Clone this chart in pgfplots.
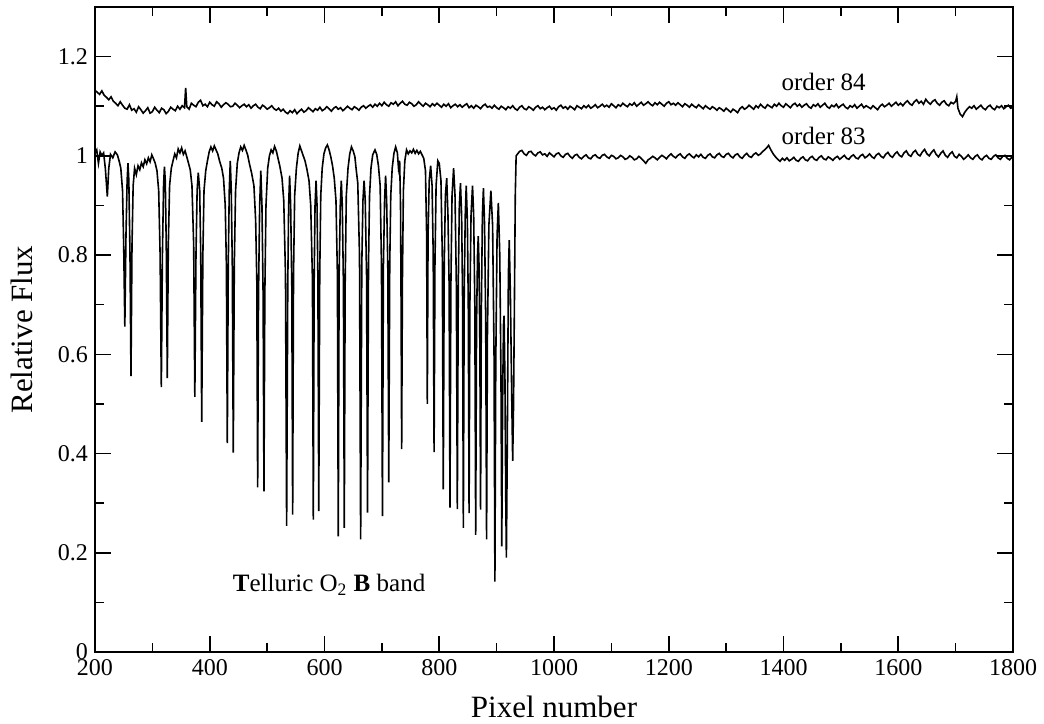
\documentclass[border=0pt]{standalone}
\usepackage{fontspec}
\setmainfont{Liberation Serif}
\usepackage{pgfplots}
\pgfplotsset{compat=1.18}

% order 84 (offset spectrum, flat continuum)
\pgfplotstableread{
x y
200 1.132
204 1.128
208 1.124
212 1.131
216 1.122
220 1.118
224 1.113
228 1.119
232 1.110
236 1.106
240 1.101
244 1.109
248 1.102
252 1.096
256 1.094
260 1.103
264 1.092
268 1.095
272 1.088
276 1.099
280 1.093
284 1.086
288 1.091
292 1.097
296 1.086
300 1.089
304 1.098
308 1.092
312 1.087
316 1.096
320 1.093
324 1.085
328 1.090
332 1.098
336 1.094
340 1.091
344 1.100
348 1.094
352 1.101
356 1.097
358 1.137
360 1.099
364 1.094
368 1.106
372 1.102
376 1.099
380 1.108
384 1.112
388 1.101
392 1.104
396 1.099
400 1.108
404 1.103
408 1.100
412 1.109
416 1.105
420 1.098
424 1.103
428 1.107
432 1.104
436 1.099
440 1.100
444 1.106
448 1.102
452 1.097
456 1.101
460 1.104
464 1.099
468 1.103
472 1.096
476 1.101
480 1.104
484 1.098
488 1.095
492 1.102
496 1.099
500 1.094
504 1.097
508 1.101
512 1.095
516 1.092
520 1.096
524 1.090
528 1.094
532 1.088
536 1.085
540 1.091
544 1.087
548 1.093
552 1.085
556 1.090
560 1.094
564 1.088
568 1.091
572 1.097
576 1.093
580 1.089
584 1.095
588 1.092
592 1.098
596 1.091
600 1.094
604 1.099
608 1.095
612 1.090
616 1.096
620 1.099
624 1.094
628 1.097
632 1.091
636 1.095
640 1.100
644 1.096
648 1.093
652 1.099
656 1.096
660 1.092
664 1.098
668 1.101
672 1.096
676 1.100
680 1.103
684 1.098
688 1.104
692 1.100
696 1.106
700 1.101
704 1.108
708 1.103
712 1.100
716 1.107
720 1.104
724 1.109
728 1.101
732 1.106
736 1.110
740 1.104
744 1.102
748 1.108
752 1.105
756 1.100
760 1.103
764 1.109
768 1.104
772 1.100
776 1.106
780 1.103
784 1.099
788 1.105
792 1.101
796 1.106
800 1.102
804 1.098
808 1.104
812 1.100
816 1.105
820 1.097
824 1.101
828 1.104
832 1.099
836 1.103
840 1.098
844 1.102
848 1.105
852 1.097
856 1.101
860 1.096
864 1.102
868 1.099
872 1.095
876 1.101
880 1.104
884 1.098
888 1.100
892 1.096
896 1.102
900 1.097
904 1.094
908 1.100
912 1.097
916 1.093
920 1.099
924 1.096
928 1.101
932 1.095
936 1.092
940 1.098
944 1.101
948 1.095
952 1.093
956 1.099
960 1.096
964 1.092
968 1.098
972 1.101
976 1.095
980 1.098
984 1.093
988 1.097
992 1.100
996 1.094
1000 1.097
1004 1.092
1008 1.099
1012 1.102
1016 1.096
1020 1.099
1024 1.094
1028 1.100
1032 1.097
1036 1.093
1040 1.101
1044 1.098
1048 1.095
1052 1.101
1056 1.097
1060 1.102
1064 1.096
1068 1.099
1072 1.103
1076 1.097
1080 1.100
1084 1.104
1088 1.099
1092 1.102
1096 1.098
1100 1.105
1104 1.101
1108 1.097
1112 1.103
1116 1.100
1120 1.106
1124 1.102
1128 1.099
1132 1.105
1136 1.102
1140 1.107
1144 1.100
1148 1.104
1152 1.108
1156 1.102
1160 1.105
1164 1.109
1168 1.104
1172 1.101
1176 1.107
1180 1.103
1184 1.108
1188 1.104
1192 1.100
1196 1.106
1200 1.109
1204 1.103
1208 1.106
1212 1.102
1216 1.107
1220 1.103
1224 1.099
1228 1.105
1232 1.102
1236 1.098
1240 1.104
1244 1.100
1248 1.097
1252 1.103
1256 1.099
1260 1.095
1264 1.101
1268 1.097
1272 1.094
1276 1.099
1280 1.096
1284 1.092
1288 1.097
1292 1.094
1296 1.090
1300 1.096
1304 1.092
1308 1.088
1312 1.094
1316 1.091
1320 1.087
1324 1.095
1328 1.099
1332 1.094
1336 1.097
1340 1.102
1344 1.098
1348 1.094
1352 1.101
1356 1.097
1360 1.104
1364 1.099
1368 1.096
1372 1.103
1376 1.100
1380 1.097
1384 1.104
1388 1.100
1392 1.106
1396 1.101
1400 1.098
1404 1.105
1408 1.101
1412 1.097
1416 1.103
1420 1.106
1424 1.100
1428 1.104
1432 1.098
1436 1.102
1440 1.105
1444 1.099
1448 1.096
1452 1.103
1456 1.100
1460 1.105
1464 1.098
1468 1.102
1472 1.106
1476 1.099
1480 1.096
1484 1.102
1488 1.099
1492 1.104
1496 1.097
1500 1.101
1504 1.104
1508 1.098
1512 1.095
1516 1.101
1520 1.098
1524 1.103
1528 1.096
1532 1.100
1536 1.104
1540 1.097
1544 1.101
1548 1.098
1552 1.095
1556 1.101
1560 1.097
1564 1.093
1568 1.100
1572 1.104
1576 1.099
1580 1.102
1584 1.106
1588 1.100
1592 1.104
1596 1.108
1600 1.102
1604 1.106
1608 1.101
1612 1.107
1616 1.111
1620 1.105
1624 1.102
1628 1.109
1632 1.113
1636 1.106
1640 1.110
1644 1.104
1648 1.114
1652 1.108
1656 1.104
1660 1.110
1664 1.113
1668 1.106
1672 1.102
1676 1.108
1680 1.111
1684 1.104
1688 1.101
1692 1.108
1696 1.105
1700 1.110
1702 1.119
1704 1.096
1708 1.084
1712 1.079
1716 1.088
1720 1.094
1724 1.099
1728 1.096
1732 1.101
1736 1.094
1740 1.098
1744 1.102
1748 1.096
1752 1.093
1756 1.099
1760 1.102
1764 1.096
1768 1.093
1772 1.100
1776 1.097
1780 1.101
1784 1.095
1788 1.099
1792 1.102
1796 1.096
1800 1.098
}\ordereightyfour

% order 83 (O2 B band absorption lines)
\pgfplotstableread{
x y
200 1.005
203 1.012
206 0.985
209 1.008
212 1.001
215 1.006
218 0.975
221.5 0.918
224 0.975
227 1.003
231 0.996
235 1.008
239 1.002
242 0.990
245 0.975
248 0.93
250 0.82
252 0.656
254 0.84
256 0.95
257.5 0.985
259 0.95
261 0.80
262.7 0.556
264.5 0.82
266.5 0.94
269 0.975
272 0.962
275 0.980
278 0.972
281 0.986
284 0.978
287 0.992
290 0.984
293 0.996
296 0.988
299 1.002
302 0.994
305 0.985
308 0.97
311 0.93
313.5 0.80
315.6 0.534
317.5 0.80
319.5 0.94
321 0.978
322.5 0.95
324.2 0.82
326 0.552
327.8 0.82
330 0.94
333 0.975
336 0.99
339 1.004
342 0.996
345 1.014
348 1.006
351 1.016
354 1.003
357 1.010
360 0.998
363 0.985
366 0.972
369 0.94
372 0.82
374 0.514
376 0.80
378 0.93
380 0.966
382.5 0.93
384.3 0.80
386 0.464
388 0.80
390 0.93
393 0.97
396 0.99
399 1.008
402 1.018
405 1.010
408 1.020
411 1.012
414 1.004
417 0.99
421 0.975
424 0.955
427 0.90
429 0.78
430.6 0.421
432.3 0.78
434 0.93
435.8 0.99
437.5 0.93
439.3 0.78
441 0.402
442.8 0.78
445 0.93
448 0.985
451 1.006
454 1.018
457 1.011
460 1.021
463 1.012
466 1.002
469 0.985
473 0.965
477 0.94
480 0.87
482 0.75
483.5 0.332
485 0.72
487 0.90
489 0.97
491 0.90
493 0.72
494.5 0.324
496 0.72
498 0.90
501 0.975
504 1.000
507 1.012
510 1.006
513 1.019
516 1.010
519 0.995
522 0.98
526 0.955
529 0.91
532 0.76
534 0.254
536 0.74
537.5 0.90
539.2 0.96
541 0.90
543 0.74
544.5 0.277
546 0.76
548 0.92
551 0.975
554 1.005
557 1.020
560 1.010
563 1.000
566 0.99
569 0.975
573 0.95
576 0.90
579 0.75
580.5 0.267
582 0.75
583.5 0.90
585.3 0.95
587 0.90
588.5 0.75
590 0.284
591.7 0.76
593.5 0.92
596 0.975
599 1.004
602 1.016
605 1.022
608 1.012
611 0.998
614 0.98
617 0.955
620 0.91
622.5 0.76
624 0.233
625.5 0.76
627.5 0.90
629.3 0.95
631 0.90
633 0.74
634.5 0.25
636 0.74
638 0.92
641 0.975
644 1.004
647 1.018
650 1.010
653 0.998
655 0.975
658 0.945
661 0.80
663 0.227
665 0.78
667 0.91
669 0.95
671 0.91
673.3 0.76
675 0.281
676.7 0.78
678.5 0.92
681 0.975
684 1.002
688 1.012
691 1.003
694 0.98
697 0.94
699.3 0.78
701 0.274
702.7 0.78
704.7 0.91
706.5 0.96
708.3 0.91
710.3 0.78
712 0.342
713.7 0.78
715.5 0.92
718 0.975
721 1.005
724 1.018
727 1.006
729 0.975
731 0.99
732.5 0.90
733.5 0.70
734.5 0.409
735.8 0.75
737.5 0.93
740 0.99
743 1.012
746 1.004
749 1.010
752 1.006
755 1.013
758 1.005
761 1.011
764 1.004
767 1.009
770 1.002
773 0.995
776 0.97
778 0.84
779.2 0.50
780.5 0.84
782.5 0.95
785 0.98
787.5 0.94
789.5 0.80
791 0.403
792.5 0.78
794.5 0.94
797.5 0.99
800 0.985
803 0.95
805.3 0.80
807 0.328
808.7 0.78
810.7 0.92
813 0.955
815.2 0.88
817.2 0.74
818.7 0.291
820.3 0.74
822.3 0.92
825 0.975
827.5 0.92
829.8 0.74
831.5 0.288
833.2 0.74
835 0.90
837 0.945
839 0.88
840.6 0.72
842 0.25
843.5 0.72
845.3 0.88
847 0.94
849 0.87
850.6 0.70
852 0.28
853.4 0.70
855.4 0.88
858 0.94
860 0.88
862 0.70
863.5 0.236
865 0.66
866.7 0.80
868 0.838
869.3 0.78
870.8 0.62
872 0.287
873.3 0.68
875.2 0.88
877 0.935
879 0.86
881 0.66
882.5 0.227
884 0.64
886.5 0.86
890 0.93
893 0.86
895.5 0.60
897 0.142
898.5 0.58
900.8 0.84
903 0.905
905.5 0.80
907.6 0.55
909 0.213
910.4 0.50
912 0.66
913 0.678
914.5 0.55
916 0.30
917 0.19
918.5 0.40
920.5 0.76
922 0.83
924 0.72
926.5 0.50
928 0.385
929.5 0.50
931 0.70
932.5 0.92
934 1.000
936 1.003
940 1.009
944 1.011
948 1.004
952 1.001
956 1.008
960 1.009
964 1.003
968 1.000
972 1.006
976 1.008
980 1.002
984 1.004
988 0.999
992 1.006
996 1.002
1000 0.998
1004 1.004
1008 1.006
1012 1.000
1016 0.997
1020 1.003
1024 1.005
1028 0.999
1032 0.995
1036 1.001
1040 1.003
1044 0.997
1048 0.994
1052 0.999
1056 1.002
1060 0.996
1064 0.994
1068 1.000
1072 1.002
1076 0.997
1080 0.995
1084 1.001
1088 1.003
1092 0.998
1096 0.995
1100 1.001
1104 0.999
1108 0.994
1112 0.996
1116 1.001
1120 0.998
1124 0.993
1128 0.995
1132 1.000
1136 0.997
1140 0.992
1144 0.994
1148 0.999
1152 0.995
1156 0.990
1160 0.985
1164 0.992
1168 0.995
1172 0.999
1176 0.996
1180 0.992
1184 0.997
1188 1.001
1192 0.998
1196 0.994
1200 1.000
1204 1.004
1208 0.999
1212 0.996
1216 1.001
1220 1.004
1224 0.998
1228 0.995
1232 1.001
1236 1.004
1240 0.999
1244 0.996
1248 1.002
1252 0.998
1256 1.003
1260 0.997
1264 0.995
1268 1.001
1272 1.004
1276 0.998
1280 0.996
1284 1.002
1288 1.005
1292 0.999
1296 0.997
1300 1.003
1304 1.005
1308 0.999
1312 0.996
1316 1.002
1320 1.004
1324 0.998
1328 0.995
1332 1.001
1336 1.005
1340 0.999
1344 0.997
1348 1.003
1352 1.006
1356 1.001
1360 1.004
1364 1.009
1368 1.013
1372 1.018
1374 1.021
1378 1.012
1382 1.004
1386 0.998
1390 0.993
1394 0.989
1398 0.995
1402 0.991
1406 0.996
1410 0.990
1414 0.993
1418 0.997
1422 0.991
1426 0.989
1430 0.995
1434 0.998
1438 0.992
1442 0.990
1446 0.996
1450 0.999
1454 0.993
1458 0.991
1462 0.997
1466 1.000
1470 0.994
1474 0.992
1478 0.998
1482 0.995
1486 0.991
1490 0.996
1494 0.999
1498 0.993
1502 0.997
1506 1.001
1510 0.995
1514 0.993
1518 0.999
1522 1.002
1526 0.996
1530 0.994
1534 1.000
1538 1.003
1542 0.996
1546 0.999
1550 1.004
1554 0.998
1558 0.995
1562 1.002
1566 1.005
1570 0.999
1574 0.996
1578 1.003
1582 1.007
1586 1.000
1590 0.997
1594 1.004
1598 1.008
1602 1.001
1606 0.998
1610 1.006
1614 1.010
1618 1.002
1622 0.999
1626 1.007
1630 1.011
1634 1.003
1638 1.000
1642 1.008
1646 1.013
1650 1.004
1654 1.000
1658 1.007
1662 1.012
1666 1.003
1670 0.998
1674 1.005
1678 1.010
1682 1.001
1686 0.997
1690 1.004
1694 1.008
1698 0.999
1702 0.996
1706 1.003
1710 0.999
1714 0.993
1718 0.997
1722 1.002
1726 0.996
1730 0.993
1734 0.999
1738 1.002
1742 0.995
1746 0.992
1750 0.998
1754 1.001
1758 0.995
1762 0.993
1766 0.999
1770 1.002
1774 0.996
1778 0.993
1782 0.999
1786 1.001
1790 0.995
1794 0.992
1798 0.997
1800 0.996
}\ordereightythree

\begin{document}
\begin{tikzpicture}
  \begin{axis}[
    name=ax,
    width=459pt, height=322.5pt,
    scale only axis,
    xmin=200, xmax=1800,
    ymin=0, ymax=1.3,
    xtick={200,400,600,800,1000,1200,1400,1600,1800},
    ytick={0,0.2,0.4,0.6,0.8,1,1.2},
    minor x tick num=1,
    minor y tick num=1,
    tick align=inside,
    major tick length=8pt,
    minor tick length=4.5pt,
    axis line style={line width=1pt},
    every tick/.style={black, line width=0.8pt},
    /pgf/number format/assume math mode=true,
    /pgf/number format/1000 sep={},
    tick label style={font=\fontsize{12}{14}\selectfont},
    label style={font=\fontsize{15.5}{18}\selectfont},
    xlabel={Pixel number},
    ylabel={Relative Flux},
    xlabel style={at={(axis description cs:0.5,-0.1008)}, anchor=base},
    ylabel style={at={(axis description cs:-0.0686,0.5)}, anchor=base},
  ]
    \addplot [black, line width=0.8pt, mark=none] table {\ordereightyfour};
    \addplot [black, line width=0.8pt, mark=none] table {\ordereightythree};
    \node [anchor=base, font=\fontsize{12.5}{15}\selectfont] at (axis cs:1470,1.132) {order 84};
    \node [anchor=base, font=\fontsize{12.5}{15}\selectfont] at (axis cs:1470,1.022) {order 83};
    \node [anchor=base, font=\fontsize{12.5}{15}\selectfont] at (axis cs:608,0.121)
      {\textbf{T}elluric O\textsubscript{2} \textbf{B} band};
  \end{axis}
  \pgfresetboundingbox
  \path [use as bounding box] ([shift={(-47.5pt,-35.5pt)}]ax.south west)
    rectangle ([shift={(15.5pt,3.5pt)}]ax.north east);
\end{tikzpicture}
\end{document}
